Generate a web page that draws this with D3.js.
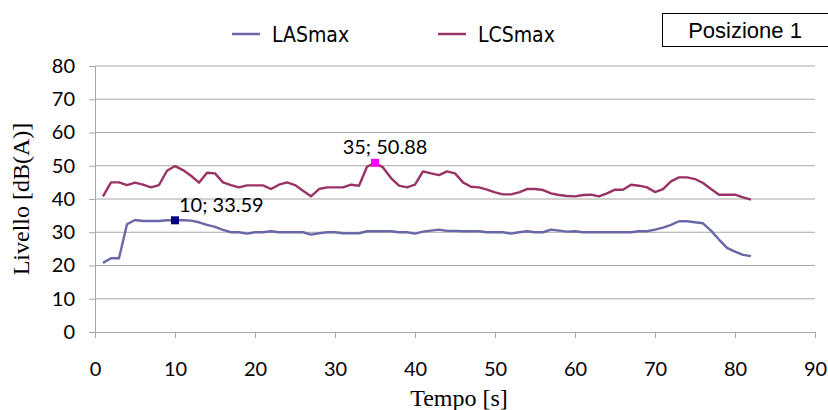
<!DOCTYPE html>
<html><head><meta charset="utf-8">
<script src="https://cdn.jsdelivr.net/npm/d3@7"></script>
<style>body{margin:0;background:#fff}svg{display:block}</style>
</head><body>
<svg id="c" width="828" height="410"></svg>
<script>
const tempo = d3.range(1, 83);
const lasmax = [20.8,22.2,22.2,32.4,33.7,33.4,33.4,33.4,33.6,33.59,33.6,33.5,33.0,32.2,31.6,30.7,30.0,30.0,29.6,30.0,30.0,30.3,30.0,30.0,30.0,30.0,29.3,29.7,30.0,30.0,29.7,29.7,29.7,30.3,30.3,30.3,30.3,30.0,30.0,29.6,30.2,30.5,30.8,30.4,30.4,30.3,30.3,30.3,30.0,30.0,30.0,29.6,30.0,30.3,30.0,30.0,30.8,30.5,30.2,30.3,30.0,30.0,30.0,30.0,30.0,30.0,30.0,30.3,30.3,30.8,31.4,32.2,33.3,33.3,33.0,32.7,30.5,27.8,25.3,24.2,23.2,22.8];
const lcsmax = [40.8,45.0,45.0,44.2,44.9,44.3,43.5,44.2,48.5,49.9,48.7,47.0,44.9,47.9,47.7,45.0,44.2,43.5,44.1,44.1,44.1,43.0,44.3,45.0,44.2,42.5,40.8,43.0,43.5,43.5,43.5,44.3,44.0,49.7,50.88,49.5,46.3,44.0,43.5,44.3,48.3,47.7,47.2,48.3,47.7,45.0,43.7,43.5,42.8,42.0,41.4,41.4,42.0,43.0,43.0,42.7,41.7,41.2,40.9,40.8,41.2,41.3,40.8,41.7,42.8,42.8,44.3,44.0,43.5,42.1,43.0,45.3,46.5,46.5,46.0,44.8,43.0,41.3,41.3,41.3,40.5,39.8];
const seriesNames = ["LASmax", "LCSmax"];
const xTicks = d3.range(0, 91, 10);
const yTicks = d3.range(0, 81, 10);
const highlights = [{s:0, t:10, label:"10; 33.59"}, {s:1, t:35, label:"35; 50.88"}];
const boxLabel = "Posizione 1";

const colors = ["#6868a8", "#993366"];
const markColors = ["#000080", "#ff00ff"];
const svg = d3.select("#c");
const x = d3.scaleLinear().domain([0, 90]).range([95, 815]);
const y = d3.scaleLinear().domain([0, 80]).range([332, 66]);
const tickFont = "Lato, 'Open Sans', sans-serif";
const serif = "'Liberation Serif', 'Times New Roman', serif";

// gridlines
svg.append("g").selectAll("line").data(yTicks.filter(d => d > 0)).join("line")
  .attr("x1", x(0)).attr("x2", x(90)).attr("y1", d => y(d)).attr("y2", d => y(d))
  .attr("stroke", "#a6a6a6").attr("stroke-width", 1);

// y axis
const ya = svg.append("g").attr("transform", `translate(${x(0)},0)`)
  .call(d3.axisLeft(y).tickValues(yTicks).tickSize(6).tickPadding(14));
ya.select(".domain").attr("stroke", "#a6a6a6");
ya.selectAll(".tick line").attr("stroke", "#a6a6a6");
ya.selectAll("text").attr("font-family", tickFont).attr("font-size", 20).attr("fill", "#000");

// x axis
const xa = svg.append("g").attr("transform", `translate(0,${y(0)})`)
  .call(d3.axisBottom(x).tickValues(xTicks).tickSize(6).tickPadding(24));
xa.select(".domain").attr("stroke", "#a6a6a6");
xa.selectAll(".tick line").attr("stroke", "#a6a6a6");
xa.selectAll("text").attr("font-family", tickFont).attr("font-size", 20).attr("fill", "#000");

// titles
svg.append("text").attr("x", 459).attr("y", 406).attr("text-anchor", "middle")
  .attr("font-family", serif).attr("font-size", 24).text("Tempo [s]");
svg.append("text").attr("transform", `translate(29,${y(40)}) rotate(-90)`).attr("text-anchor", "middle")
  .attr("font-family", serif).attr("font-size", 24).text("Livello [dB(A)]");

// lines
const data = [lasmax, lcsmax];
const line = d3.line().x((d, i) => x(tempo[i])).y(d => y(d));
data.forEach((s, k) => {
  svg.append("path").datum(s).attr("d", line).attr("fill", "none")
    .attr("stroke", colors[k]).attr("stroke-width", 2.4).attr("stroke-linejoin", "round");
});

// highlight markers + labels
const labelPos = [{dx: 4, dy: -8, anchor: "start"}, {dx: 10, dy: -9, anchor: "middle"}];
highlights.forEach((h, k) => {
  const v = data[h.s][tempo.indexOf(h.t)];
  svg.append("rect").attr("x", x(h.t) - 4).attr("y", y(v) - 4).attr("width", 8).attr("height", 8)
    .attr("fill", markColors[h.s]);
  svg.append("text").attr("x", x(h.t) + labelPos[k].dx).attr("y", y(v) + labelPos[k].dy)
    .attr("text-anchor", labelPos[k].anchor)
    .attr("font-family", tickFont).attr("font-size", 20).text(h.label);
});

// legend
const legX = [232, 438];
seriesNames.forEach((n, k) => {
  svg.append("line").attr("x1", legX[k]).attr("x2", legX[k] + 28).attr("y1", 34).attr("y2", 34)
    .attr("stroke", colors[k]).attr("stroke-width", 2.5);
  svg.append("text").attr("x", legX[k] + 40).attr("y", 42)
    .attr("font-family", "'Liberation Sans Narrow', 'DejaVu Sans Condensed', sans-serif")
    .attr("font-size", 21).text(n);
});

// box
svg.append("rect").attr("x", 662.5).attr("y", 13.5).attr("width", 170).attr("height", 33)
  .attr("fill", "#fff").attr("stroke", "#000").attr("stroke-width", 1);
svg.append("text").attr("x", 745).attr("y", 38).attr("text-anchor", "middle")
  .attr("font-family", "'Liberation Sans', Arial, sans-serif").attr("font-size", 22).text(boxLabel);
</script>
</body></html>
